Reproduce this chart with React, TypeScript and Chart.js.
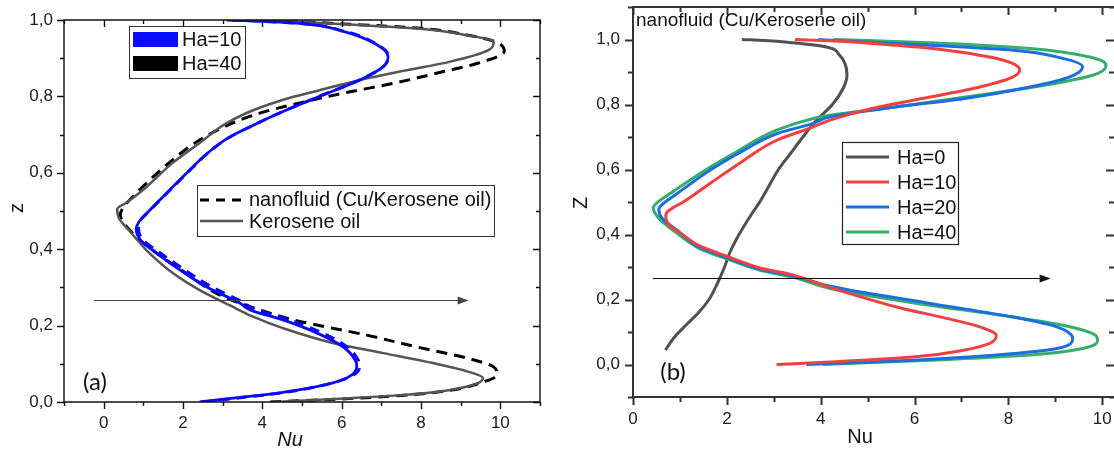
import React, { useEffect, useRef } from 'react';
import { Chart, registerables } from 'chart.js';

Chart.register(...registerables);

type Pair = [number, number];

// ---------- Panel (a): [Nu, z] pairs, ordered along z ----------
const keroseneHa40: Pair[] = [
  [4.3, 0.0], [6.2, 0.01], [7.5, 0.018], [8.7, 0.031], [9.4, 0.048], [9.56, 0.063],
  [9.2, 0.079], [8.3, 0.102], [7.05, 0.128], [5.8, 0.154], [4.5, 0.194], [3.75, 0.224],
  [3.2, 0.252], [2.42, 0.293], [1.75, 0.337], [1.16, 0.389], [0.66, 0.447], [0.38, 0.482],
  [0.34, 0.505], [0.58, 0.522], [1.08, 0.563], [1.74, 0.626], [2.42, 0.678], [3.1, 0.73],
  [3.8, 0.765], [4.55, 0.792], [5.4, 0.815], [6.46, 0.843], [7.47, 0.865], [8.74, 0.891],
  [9.7, 0.921], [9.83, 0.943], [9.16, 0.96], [7.9, 0.978], [6.2, 0.988], [4.0, 1.0],
];

const nanofluidHa40: Pair[] = [
  [4.2, 0.0], [6.2, 0.009], [7.5, 0.017], [8.7, 0.03], [9.5, 0.05], [9.92, 0.072],
  [9.83, 0.092], [9.16, 0.115], [7.9, 0.144], [6.63, 0.175], [4.78, 0.215], [3.94, 0.241],
  [2.93, 0.28], [2.08, 0.337], [1.33, 0.39], [0.73, 0.442], [0.42, 0.49], [0.5, 0.51],
  [0.73, 0.537], [1.16, 0.581], [1.74, 0.634], [2.42, 0.686], [3.2, 0.728], [3.96, 0.757],
  [4.95, 0.783], [6.21, 0.812], [7.3, 0.834], [8.57, 0.865], [9.41, 0.886], [10.1, 0.918],
  [9.85, 0.944], [9.16, 0.961], [7.9, 0.979], [6.2, 0.989], [4.0, 1.0],
];

const keroseneHa10: Pair[] = [
  [2.42, 0.0], [3.26, 0.01], [4.44, 0.024], [5.37, 0.04], [6.13, 0.063], [6.38, 0.092],
  [6.34, 0.11], [6.04, 0.144], [5.37, 0.181], [4.52, 0.215], [3.69, 0.241], [3.43, 0.259],
  [2.6, 0.301], [1.92, 0.346], [1.33, 0.39], [0.93, 0.424], [0.82, 0.452], [0.88, 0.47],
  [1.16, 0.502], [1.58, 0.546], [2.08, 0.598], [2.6, 0.65], [3.12, 0.69], [3.72, 0.722],
  [4.42, 0.756], [5.37, 0.797], [6.46, 0.843], [7.05, 0.878], [7.17, 0.904], [6.89, 0.935],
  [6.04, 0.97], [4.95, 0.991], [3.69, 0.998], [3.1, 1.0],
];

const nanofluidHa10: Pair[] = [
  [2.5, 0.0], [3.35, 0.01], [4.5, 0.024], [5.45, 0.042], [6.2, 0.065], [6.46, 0.095],
  [6.4, 0.113], [6.1, 0.147], [5.45, 0.184], [4.6, 0.218], [3.78, 0.244], [3.5, 0.262],
  [2.68, 0.304], [2.0, 0.349], [1.4, 0.392], [0.98, 0.426], [0.88, 0.452], [0.9, 0.47],
  [1.18, 0.503], [1.6, 0.547], [2.1, 0.599], [2.62, 0.651], [3.14, 0.691], [3.74, 0.723],
  [4.44, 0.757], [5.38, 0.798], [6.47, 0.844], [7.06, 0.879], [7.18, 0.905], [6.9, 0.936],
  [6.05, 0.971], [4.96, 0.991], [3.7, 0.998], [3.12, 1.0],
];

const xTicksA = [0, 2, 4, 6, 8, 10];
const yTicksA = [0, 0.2, 0.4, 0.6, 0.8, 1.0];
const legendA1 = ['Ha=10', 'Ha=40'];
const legendA2 = ['nanofluid (Cu/Kerosene oil)', 'Kerosene oil'];

// ---------- Panel (b): nanofluid (Cu/Kerosene oil), [Nu, z] pairs ----------
const nanoHa0: Pair[] = [
  [0.69, 0.044], [0.86, 0.08], [1.12, 0.12], [1.4, 0.16], [1.62, 0.2], [1.8, 0.25],
  [1.95, 0.3], [2.08, 0.35], [2.26, 0.4], [2.47, 0.45], [2.7, 0.5], [2.9, 0.55],
  [3.1, 0.6], [3.36, 0.65], [3.62, 0.7], [3.9, 0.75], [4.25, 0.8], [4.48, 0.85],
  [4.56, 0.89], [4.52, 0.925], [4.4, 0.952], [4.12, 0.977], [3.4, 0.99], [2.8, 0.997],
  [2.32, 1.0],
];

const nanoHa10: Pair[] = [
  [3.06, 0.0], [4.2, 0.008], [5.97, 0.023], [7.04, 0.044], [7.6, 0.065], [7.74, 0.09],
  [7.39, 0.116], [6.68, 0.142], [5.62, 0.177], [4.2, 0.237], [3.42, 0.275], [2.71, 0.297],
  [2.0, 0.333], [1.43, 0.364], [1.05, 0.4], [0.8, 0.425], [0.7, 0.455], [0.72, 0.468],
  [0.85, 0.482], [1.07, 0.5], [1.64, 0.557], [2.36, 0.628], [3.06, 0.69], [3.84, 0.731],
  [4.2, 0.752], [5.26, 0.793], [6.33, 0.823], [7.39, 0.854], [8.1, 0.885], [8.24, 0.906],
  [8.1, 0.926], [7.6, 0.946], [6.68, 0.967], [5.62, 0.982], [4.2, 0.996], [3.45, 1.0],
];

const nanoHa20: Pair[] = [
  [3.7, 0.0], [4.2, 0.003], [5.97, 0.013], [7.74, 0.029], [9.03, 0.049], [9.37, 0.08],
  [9.03, 0.116], [8.1, 0.146], [6.33, 0.188], [4.2, 0.241], [3.42, 0.272], [2.71, 0.293],
  [2.0, 0.329], [1.43, 0.36], [0.94, 0.413], [0.62, 0.45], [0.55, 0.478], [0.62, 0.492],
  [0.94, 0.526], [1.64, 0.598], [2.36, 0.659], [3.06, 0.71], [3.84, 0.742], [4.2, 0.762],
  [5.62, 0.793], [7.04, 0.818], [8.46, 0.854], [9.31, 0.885], [9.58, 0.916], [9.16, 0.942],
  [8.1, 0.967], [6.33, 0.982], [4.2, 0.998], [3.95, 1.0],
];

const nanoHa40: Pair[] = [
  [4.05, 0.0], [6.33, 0.013], [8.46, 0.029], [9.58, 0.049], [9.9, 0.075], [9.87, 0.088],
  [9.31, 0.116], [8.1, 0.146], [6.33, 0.182], [4.2, 0.234], [3.42, 0.268], [2.71, 0.29],
  [2.0, 0.325], [1.43, 0.356], [0.9, 0.408], [0.55, 0.45], [0.43, 0.482], [0.5, 0.496],
  [0.79, 0.526], [1.43, 0.588], [2.14, 0.649], [3.06, 0.721], [3.84, 0.757], [4.2, 0.767],
  [5.62, 0.793], [7.39, 0.829], [8.8, 0.86], [9.8, 0.89], [10.08, 0.921], [9.73, 0.946],
  [8.46, 0.972], [6.33, 0.99], [4.27, 1.0],
];

const xTicksB = [0, 2, 4, 6, 8, 10];
const yTicksB = [0, 0.2, 0.4, 0.6, 0.8, 1.0];
const legendB = ['Ha=0', 'Ha=10', 'Ha=20', 'Ha=40'];
const titleB = 'nanofluid (Cu/Kerosene oil)';

// ---------- styling ----------
const SANS = "'Liberation Sans', Arial, sans-serif";
const GRAY_A = '#555555';
const BLUE_A = '#0a0aff';
const COLORS_B = ['#515151', '#F14040', '#1A6FDF', '#37AD6B'];

const fmtInt = (v: number) => String(Math.round(v));
const fmtComma = (v: number) => v.toFixed(1).replace('.', ',');

// Nu is a function of z, so z is the index axis and the curve is a monotone spline in z
function curve(label: string, pts: Pair[], color: string, width: number, dash: number[] = []) {
  return {
    label,
    data: pts.map(([x, y]) => ({ x, y })),
    borderColor: color,
    backgroundColor: color,
    borderWidth: width,
    borderDash: dash,
    pointRadius: 0,
    pointHoverRadius: 0,
    cubicInterpolationMode: 'monotone',
    fill: false,
  };
}

function axis(min: number, max: number, ticks: number[], fmt: (v: number) => string,
  fitKey: 'width' | 'height', fitSize: number, padding: number) {
  return {
    type: 'linear',
    min,
    max,
    grid: { display: false, drawTicks: false },
    border: { display: false },
    afterBuildTicks: (s: any) => { s.ticks = ticks.map((v) => ({ value: v })); },
    afterFit: (s: any) => {
      s[fitKey] = fitSize;
      s.paddingTop = 0;
      s.paddingBottom = 0;
      s.paddingLeft = 0;
      s.paddingRight = 0;
    },
    ticks: {
      autoSkip: false,
      maxRotation: 0,
      padding,
      color: '#1a1a1a',
      font: { family: SANS, size: 17 },
      callback: (v: any) => fmt(Number(v)),
    },
  };
}

interface FrameOpts {
  color: string;
  width: number;
  major: number;
  minor: number;
  right: boolean;
  rightLine: boolean;
}

// box frame with outward ticks on left/bottom, inward ticks on top/right
function drawFrame(chart: any, o: FrameOpts) {
  const { ctx, chartArea: a } = chart;
  const xs = chart.scales.x;
  const ys = chart.scales.y;
  ctx.save();
  ctx.strokeStyle = o.color;
  ctx.lineWidth = o.width;
  ctx.lineCap = 'square';
  ctx.beginPath();
  ctx.moveTo(a.left, a.bottom);
  ctx.lineTo(a.left, a.top);
  ctx.lineTo(a.right, a.top);
  if (o.rightLine) ctx.lineTo(a.right, a.bottom);
  ctx.moveTo(a.left, a.bottom);
  ctx.lineTo(a.right, a.bottom);
  ctx.stroke();

  ctx.lineCap = 'butt';
  ctx.beginPath();
  for (let i = Math.ceil(xs.min); i <= Math.floor(xs.max); i++) {
    const px = Math.round(xs.getPixelForValue(i)) + 0.5;
    const len = i % 2 === 0 ? o.major : o.minor;
    ctx.moveTo(px, a.bottom);
    ctx.lineTo(px, a.bottom + len);
    ctx.moveTo(px, a.top);
    ctx.lineTo(px, a.top + len);
  }
  for (let k = Math.ceil(ys.min * 10 - 1e-6); k <= Math.floor(ys.max * 10 + 1e-6); k++) {
    const py = Math.round(ys.getPixelForValue(k / 10)) + 0.5;
    const len = k % 2 === 0 ? o.major : o.minor;
    ctx.moveTo(a.left - len, py);
    ctx.lineTo(a.left, py);
    if (o.right) {
      ctx.moveTo(a.right - len, py);
      ctx.lineTo(a.right, py);
    }
  }
  ctx.stroke();
  ctx.restore();
}

function arrow(ctx: CanvasRenderingContext2D, x1: number, x2: number, y: number, color: string, lw: number) {
  ctx.save();
  ctx.strokeStyle = color;
  ctx.fillStyle = color;
  ctx.lineWidth = lw;
  ctx.beginPath();
  ctx.moveTo(x1, y);
  ctx.lineTo(x2 - 8, y);
  ctx.stroke();
  ctx.beginPath();
  ctx.moveTo(x2, y);
  ctx.lineTo(x2 - 11, y - 4);
  ctx.lineTo(x2 - 11, y + 4);
  ctx.closePath();
  ctx.fill();
  ctx.restore();
}

function text(ctx: CanvasRenderingContext2D, s: string, x: number, y: number, font: string,
  align: CanvasTextAlign = 'left', rotate = false) {
  ctx.save();
  ctx.font = font;
  ctx.fillStyle = '#111';
  ctx.textAlign = align;
  ctx.textBaseline = 'middle';
  ctx.translate(x, y);
  if (rotate) ctx.rotate(-Math.PI / 2);
  ctx.fillText(s, 0, 0);
  ctx.restore();
}

function lineSwatch(ctx: CanvasRenderingContext2D, x1: number, x2: number, y: number, color: string, lw: number, dash: number[] = []) {
  ctx.save();
  ctx.strokeStyle = color;
  ctx.lineWidth = lw;
  ctx.setLineDash(dash);
  ctx.beginPath();
  ctx.moveTo(x1, y);
  ctx.lineTo(x2, y);
  ctx.stroke();
  ctx.restore();
}

// ---------- Panel (a) ----------
const arrowA = { from: -0.25, to: 9.2, z: 0.268 };

const decorA = {
  id: 'decorA',
  afterDraw(chart: any) {
    const ctx: CanvasRenderingContext2D = chart.ctx;
    const xs = chart.scales.x;
    const ys = chart.scales.y;
    drawFrame(chart, { color: '#111', width: 1.4, major: 7, minor: 4, right: true, rightLine: true });

    arrow(ctx, xs.getPixelForValue(arrowA.from), xs.getPixelForValue(arrowA.to),
      Math.round(ys.getPixelForValue(arrowA.z)) + 0.5, '#444', 1.2);

    // Ha legend
    ctx.save();
    ctx.fillStyle = '#fff';
    ctx.fillRect(129.5, 26.5, 116, 52);
    ctx.strokeStyle = '#333';
    ctx.lineWidth = 1;
    ctx.strokeRect(129.5, 26.5, 116, 52);
    ctx.fillStyle = BLUE_A;
    ctx.fillRect(133, 32, 45, 15);
    ctx.fillStyle = '#000';
    ctx.fillRect(133, 56, 45, 15);
    ctx.restore();
    text(ctx, legendA1[0], 182, 40, `20px ${SANS}`);
    text(ctx, legendA1[1], 182, 64, `20px ${SANS}`);

    // fluid legend
    ctx.save();
    ctx.fillStyle = '#fff';
    ctx.fillRect(197.5, 185.5, 297, 51);
    ctx.strokeStyle = '#333';
    ctx.lineWidth = 1;
    ctx.strokeRect(197.5, 185.5, 297, 51);
    ctx.restore();
    lineSwatch(ctx, 200, 241, 200, '#000', 3, [9, 7]);
    lineSwatch(ctx, 200, 243, 221, GRAY_A, 2.5);
    text(ctx, legendA2[0], 249, 200, `20px ${SANS}`);
    text(ctx, legendA2[1], 249, 222, `20px ${SANS}`);

    text(ctx, '(a)', 95, 382, `24px Lato, 'Open Sans', sans-serif`, 'center');
    text(ctx, 'z', 17, 208, `20px ${SANS}`, 'center', true);
    text(ctx, 'Nu', 290, 440, `italic 20px ${SANS}`, 'center');
  },
};

function baseOptions(top: number, right: number, scales: any) {
  return {
    indexAxis: 'y',
    responsive: false,
    animation: false,
    devicePixelRatio: 1,
    events: [],
    layout: { padding: { left: 0, top, right, bottom: 0 } },
    plugins: { legend: { display: false }, tooltip: { enabled: false } },
    scales,
  };
}

function configA(): any {
  return {
    type: 'line',
    data: {
      datasets: [
        curve('nanofluid, Ha=10', nanofluidHa10, BLUE_A, 3, [10, 7]),
        curve('Kerosene oil, Ha=10', keroseneHa10, BLUE_A, 2.8),
        curve('Kerosene oil, Ha=40', keroseneHa40, GRAY_A, 2.5),
        curve('nanofluid, Ha=40', nanofluidHa40, '#000', 3, [11, 7]),
      ],
    },
    options: baseOptions(20, 8, {
      x: axis(-1, 11, xTicksA, fmtInt, 'height', 48, 11),
      y: axis(0, 1, yTicksA, fmtComma, 'width', 64, 11),
    }),
    plugins: [decorA],
  };
}

// ---------- Panel (b) ----------
const arrowB = { from: 0.42, to: 8.9, z: 0.265 };

const decorB = {
  id: 'decorB',
  afterDraw(chart: any) {
    const ctx: CanvasRenderingContext2D = chart.ctx;
    const xs = chart.scales.x;
    const ys = chart.scales.y;
    drawFrame(chart, { color: '#333', width: 2, major: 8, minor: 5, right: true, rightLine: false });

    arrow(ctx, xs.getPixelForValue(arrowB.from), xs.getPixelForValue(arrowB.to),
      Math.round(ys.getPixelForValue(arrowB.z)) + 0.5, '#111', 1.2);

    text(ctx, titleB, 80, 21, `19px ${SANS}`);

    ctx.save();
    ctx.fillStyle = '#fff';
    ctx.fillRect(286.5, 142.5, 116, 102);
    ctx.strokeStyle = '#222';
    ctx.lineWidth = 1.2;
    ctx.strokeRect(286.5, 142.5, 116, 102);
    ctx.restore();
    legendB.forEach((label, i) => {
      const y = 157 + i * 25;
      lineSwatch(ctx, 290, 333, y, COLORS_B[i], 3);
      text(ctx, label, 341, y + 1, `20px ${SANS}`);
    });

    text(ctx, '(b)', 117, 372, `24px Lato, 'Open Sans', sans-serif`, 'center');
    text(ctx, 'Z', 25, 203, `20px ${SANS}`, 'center', true);
    text(ctx, 'Nu', 304, 437, `20px ${SANS}`, 'center');
  },
};

function configB(): any {
  return {
    type: 'line',
    data: {
      datasets: [
        curve(legendB[1], nanoHa10, COLORS_B[1], 3),
        curve(legendB[2], nanoHa20, COLORS_B[2], 3),
        curve(legendB[3], nanoHa40, COLORS_B[3], 3),
        curve(legendB[0], nanoHa0, COLORS_B[0], 3),
      ],
    },
    options: baseOptions(7, 0, {
      x: axis(0, 10.25, xTicksB, fmtInt, 'height', 53, 12),
      y: axis(-0.1, 1.1, yTicksB, fmtComma, 'width', 77, 13),
    }),
    plugins: [decorB],
  };
}

function Panel({ make, left, width }: { make: () => any; left: number; width: number }) {
  const ref = useRef<HTMLCanvasElement>(null);
  useEffect(() => {
    const chart = new Chart(ref.current as HTMLCanvasElement, make());
    return () => chart.destroy();
  }, [make]);
  return (
    <canvas
      ref={ref}
      width={width}
      height={450}
      style={{ position: 'absolute', left, top: 0, width, height: 450, display: 'block' }}
    />
  );
}

export default function App() {
  return (
    <div style={{ position: 'absolute', left: 0, top: 0, width: 1114, height: 450, background: '#fff', overflow: 'hidden' }}>
      <Panel make={configA} left={0} width={548} />
      <Panel make={configB} left={556} width={558} />
    </div>
  );
}
